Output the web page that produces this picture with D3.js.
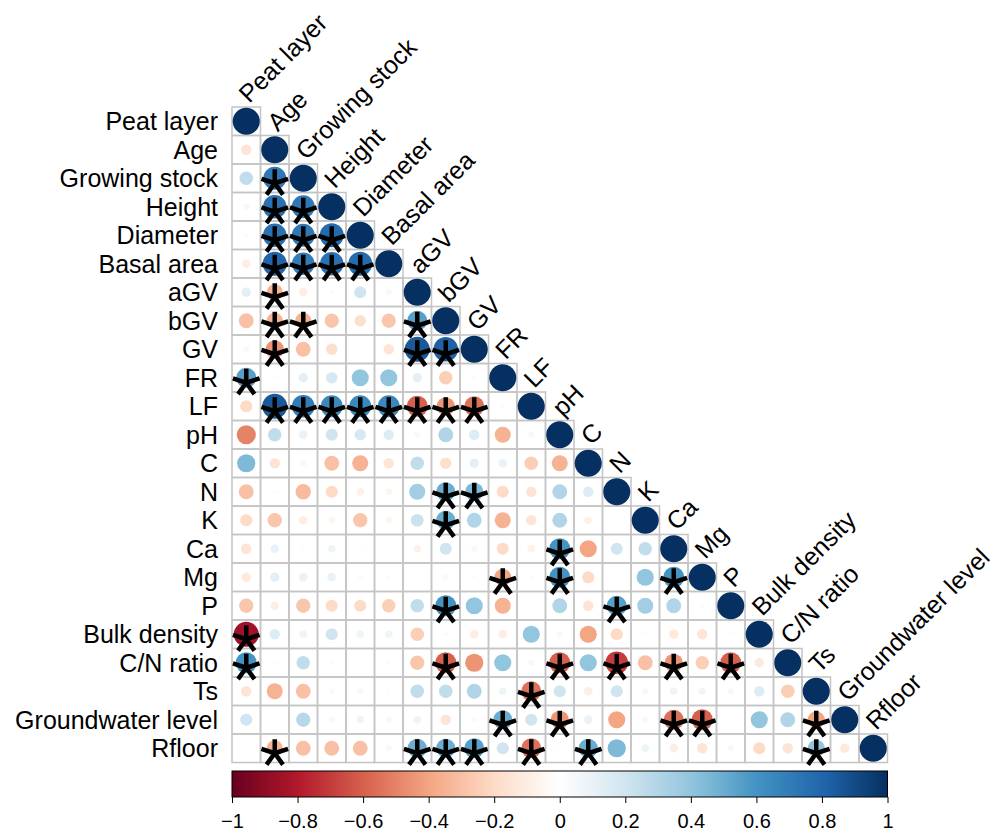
<!DOCTYPE html>
<html>
<head>
<meta charset="utf-8">
<script src="https://cdn.jsdelivr.net/npm/d3@7"></script>
<style>
  body { margin: 0; background: #fff; }
  svg { display: block; }
  text { font-family: "Liberation Sans", Arial, sans-serif; fill: #000; }
</style>
</head>
<body>
<svg id="chart" width="995" height="834"></svg>
<script>
/* variables, in matrix order */
var labels = ['Peat layer', 'Age', 'Growing stock', 'Height', 'Diameter', 'Basal area',
  'aGV', 'bGV', 'GV', 'FR', 'LF', 'pH', 'C', 'N', 'K', 'Ca', 'Mg', 'P',
  'Bulk density', 'C/N ratio', 'Ts', 'Groundwater level', 'Rfloor'];

/* lower triangle of the correlation matrix, one row per variable (diagonal included) */
var corrRows = [
  [1],
  [-0.15, 1],
  [0.25, 0.72, 1],
  [-0.05, 0.75, 0.72, 1],
  [0.03, 0.75, 0.72, 0.78, 1],
  [-0.1, 0.8, 0.7, 0.75, 0.78, 1],
  [0.12, -0.35, -0.1, 0.03, 0.2, 0.05, 1],
  [-0.3, -0.35, -0.35, -0.28, -0.18, -0.28, 0.55, 1],
  [-0.05, -0.45, -0.3, -0.18, 0.01, -0.15, 0.85, 0.82, 1],
  [0.55, -0.02, 0.12, 0.18, 0.4, 0.4, 0.12, -0.25, -0.03, 1],
  [-0.2, 0.85, 0.7, 0.65, 0.65, 0.65, -0.6, -0.45, -0.55, -0.02, 1],
  [-0.5, 0.25, 0.1, 0.2, 0.18, 0.15, 0.05, 0.3, 0.15, -0.35, 0.05, 1],
  [0.45, -0.15, -0.05, -0.3, -0.35, -0.15, 0.25, -0.18, 0.12, 0.1, -0.25, -0.35, 1],
  [-0.3, -0.02, -0.32, -0.2, -0.08, -0.06, 0.35, 0.5, 0.45, -0.2, -0.15, 0.3, 0.15, 1],
  [-0.2, -0.28, -0.1, -0.06, -0.28, -0.06, 0.22, 0.5, 0.3, -0.35, -0.15, 0.3, -0.08, 0.01, 1],
  [-0.15, 0.1, 0.02, 0.08, 0.02, 0.01, -0.08, 0.2, -0.05, -0.2, -0.08, 0.6, -0.4, 0.2, 0.25, 1],
  [-0.12, 0.12, 0.1, 0.1, -0.03, -0.03, 0.0, 0.04, -0.02, -0.4, -0.03, 0.6, -0.2, 0.0, 0.4, 0.6, 1],
  [-0.28, -0.1, -0.28, -0.2, -0.2, -0.25, 0.25, 0.6, 0.4, -0.35, 0.01, 0.3, -0.15, 0.55, 0.35, 0.3, 0.03, 1],
  [-0.85, 0.15, 0.08, 0.2, 0.08, 0.08, -0.25, 0.03, -0.1, -0.1, 0.4, 0.05, -0.4, -0.2, 0.02, -0.12, -0.15, -0.02, 1],
  [0.6, -0.02, 0.25, 0.03, 0.01, 0.03, -0.28, -0.6, -0.45, 0.4, -0.05, -0.6, 0.4, -0.7, -0.3, -0.45, -0.25, -0.6, -0.12, 1],
  [-0.15, -0.35, -0.3, 0.04, -0.05, 0.02, 0.25, 0.25, 0.3, 0.08, -0.55, 0.2, -0.1, 0.2, 0.05, 0.08, 0.07, -0.05, 0.15, -0.25, 1],
  [0.2, 0.01, 0.28, 0.05, 0.08, 0.05, 0.08, -0.15, 0.03, 0.5, 0.2, -0.45, 0.1, -0.4, -0.05, -0.55, -0.6, 0.0, 0.4, 0.3, -0.4, 1],
  [0.01, -0.35, -0.3, -0.3, -0.3, -0.05, 0.5, 0.5, 0.55, 0.2, -0.55, 0.02, 0.5, 0.45, 0.08, -0.1, -0.15, 0.05, -0.2, -0.15, 0.4, -0.12, 1]
];

/* significant pairs [row, column] marked with a star */
var sigCells = [
  [2, 1], [3, 1], [3, 2], [4, 1], [4, 2], [4, 3], [5, 1], [5, 2], [5, 3], [5, 4],
  [6, 1], [7, 1], [7, 2], [7, 6], [8, 1], [8, 6], [8, 7], [9, 0],
  [10, 1], [10, 2], [10, 3], [10, 4], [10, 5], [10, 6], [10, 7], [10, 8],
  [13, 7], [13, 8], [14, 7], [15, 11], [16, 9], [16, 11], [16, 15], [17, 7], [17, 13],
  [18, 0], [19, 0], [19, 7], [19, 11], [19, 13], [19, 15], [19, 17], [20, 10],
  [21, 9], [21, 11], [21, 15], [21, 16], [21, 20],
  [22, 1], [22, 6], [22, 7], [22, 8], [22, 10], [22, 12], [22, 20]
];

var paletteColors = ['#67001F', '#B2182B', '#D6604D', '#F4A582', '#FDDBC7', '#FFFFFF',
  '#D1E5F0', '#92C5DE', '#4393C3', '#2166AC', '#053061'];
var barTicks = [-1, -0.8, -0.6, -0.4, -0.2, 0, 0.2, 0.4, 0.6, 0.8, 1];

var svg = d3.select('#chart');
var n = labels.length,
    cellSize = 28.5,
    gridLeft = 232,
    gridTop = 107;

var x = d3.scaleBand().domain(d3.range(n)).range([gridLeft, gridLeft + n * cellSize]);
var y = d3.scaleBand().domain(d3.range(n)).range([gridTop, gridTop + n * cellSize]);
var color = d3.scaleLinear()
  .domain(paletteColors.map(function(c, i) { return -1 + 2 * i / (paletteColors.length - 1); }))
  .range(paletteColors);
var radius = d3.scaleSqrt().domain([0, 1]).range([0, cellSize * 0.475]);

var cells = [];
corrRows.forEach(function(row, i) {
  row.forEach(function(r, j) { cells.push({ i: i, j: j, r: r }); });
});

// grid
svg.append('g').selectAll('rect')
  .data(cells)
  .enter().append('rect')
  .attr('x', function(d) { return x(d.j); })
  .attr('y', function(d) { return y(d.i); })
  .attr('width', x.bandwidth())
  .attr('height', y.bandwidth())
  .attr('fill', 'none')
  .attr('stroke', '#c4c4c4')
  .attr('stroke-width', 1.5);

// circles
svg.append('g').selectAll('circle')
  .data(cells)
  .enter().append('circle')
  .attr('cx', function(d) { return x(d.j) + cellSize / 2; })
  .attr('cy', function(d) { return y(d.i) + cellSize / 2; })
  .attr('r', function(d) { return radius(Math.abs(d.r)); })
  .attr('fill', function(d) { return color(d.r); });

// significance stars (five-armed asterisk)
var armLen = 14;
var starPath = d3.range(5).map(function(k) {
  var a = -Math.PI / 2 + k * 2 * Math.PI / 5;
  return 'M0,0L' + (armLen * Math.cos(a)).toFixed(2) + ',' + (armLen * Math.sin(a)).toFixed(2);
}).join('');

svg.append('g').selectAll('path')
  .data(sigCells)
  .enter().append('path')
  .attr('d', starPath)
  .attr('transform', function(d) {
    return 'translate(' + (x(d[1]) + cellSize / 2) + ',' + (y(d[0]) + cellSize / 2 + 5) + ')';
  })
  .attr('stroke', '#000')
  .attr('stroke-width', 4.5)
  .attr('fill', 'none');

// row labels
svg.append('g').selectAll('text')
  .data(labels)
  .enter().append('text')
  .attr('x', gridLeft - 14)
  .attr('y', function(d, i) { return y(i) + cellSize / 2; })
  .attr('dy', '0.36em')
  .attr('text-anchor', 'end')
  .style('font-size', '25px')
  .text(function(d) { return d; });

// column labels along the diagonal
svg.append('g').selectAll('text')
  .data(labels)
  .enter().append('text')
  .attr('transform', function(d, i) {
    return 'translate(' + (x(i) + cellSize / 2 + 3) + ',' + (y(i) - 3) + ') rotate(-45)';
  })
  .style('font-size', '25px')
  .text(function(d) { return d; });

// colour bar
var barTop = 771, barHeight = 26;
var bx = d3.scaleLinear().domain([-1, 1]).range([gridLeft, gridLeft + n * cellSize]);

var grad = svg.append('defs').append('linearGradient')
  .attr('id', 'corrGrad')
  .attr('x1', '0%').attr('x2', '100%').attr('y1', '0%').attr('y2', '0%');
grad.selectAll('stop')
  .data(paletteColors)
  .enter().append('stop')
  .attr('offset', function(d, i) { return (100 * i / (paletteColors.length - 1)) + '%'; })
  .attr('stop-color', function(d) { return d; });

svg.append('rect')
  .attr('x', bx(-1))
  .attr('y', barTop)
  .attr('width', bx(1) - bx(-1))
  .attr('height', barHeight)
  .attr('fill', 'url(#corrGrad)')
  .attr('stroke', '#000')
  .attr('stroke-width', 1);

var barAxis = svg.append('g')
  .attr('transform', 'translate(0,' + (barTop + barHeight) + ')')
  .call(d3.axisBottom(bx).tickValues(barTicks).tickFormat(d3.format('')).tickSize(6).tickPadding(11));
barAxis.select('.domain').remove();
barAxis.selectAll('text')
  .style('font-size', '20px')
  .style('font-family', '"Liberation Sans", Arial, sans-serif');
</script>
</body>
</html>
